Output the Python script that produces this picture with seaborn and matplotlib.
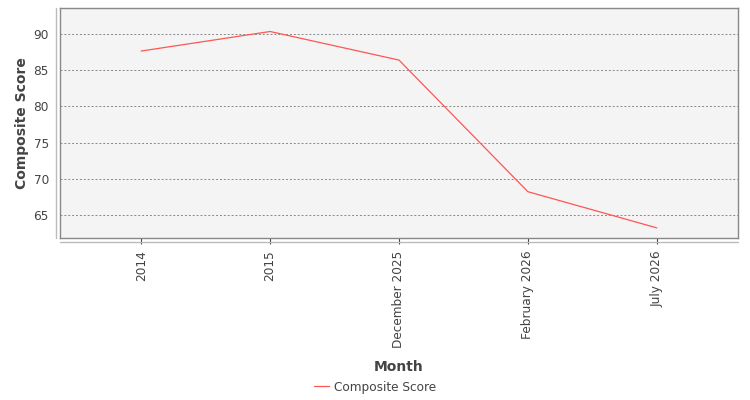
import matplotlib
matplotlib.use("Agg")
import matplotlib.pyplot as plt
import seaborn as sns
import pandas as pd
from matplotlib.lines import Line2D

# Chart data
months = ["2014", "2015", "December 2025", "February 2026", "July 2026"]
scores = [87.65, 90.35, 86.4, 68.2, 63.2]

df = pd.DataFrame({"Month": months, "Composite Score": scores})
df["pos"] = range(len(months))

sns.set_style("white")
plt.rcParams['font.family'] = ['DejaVu Sans']

fig = plt.figure(figsize=(7.5, 4), dpi=100)
ax = fig.add_axes([60 / 750, 1 - 238 / 400, 678 / 750, 230 / 400])
ax.set_facecolor("#f4f4f4")

sns.lineplot(data=df, x="pos", y="Composite Score", color="#ff5555",
             linewidth=0.9, ax=ax, label="Composite Score", legend=False)

ax.set_xlim(-0.63, len(months) - 1 + 0.63)
ax.set_ylim(61.8, 93.6)
ax.set_yticks([65, 70, 75, 80, 85, 90])
ax.set_xticks(df["pos"])
ax.set_xticklabels(months, rotation=90)
ax.yaxis.grid(True, color="#888888", linestyle=(0, (2, 2)), linewidth=0.7)
ax.xaxis.grid(False)

for s in ax.spines.values():
    s.set_color("#888888")
    s.set_linewidth(1.0)

ax.tick_params(axis="x", colors="#444444", labelsize=8.7, length=4, width=0.8,
               direction="out", pad=5, bottom=True)
ax.tick_params(axis="y", colors="#444444", labelsize=8.7, length=0, pad=8)
for lbl in ax.get_xticklabels() + ax.get_yticklabels():
    lbl.set_color("#444444")

ax.set_xlabel("Month", fontsize=10, fontweight="bold", color="#444444", labelpad=9)
ax.set_ylabel("Composite Score", fontsize=10, fontweight="bold", color="#444444", labelpad=3)

# offset axis lines
fig.add_artist(Line2D([56 / 750, 56 / 750], [1 - 8 / 400, 1 - 238 / 400],
                      color="#bbbbbb", linewidth=1.0, transform=fig.transFigure))
fig.add_artist(Line2D([60 / 750, 738 / 750], [1 - 242 / 400, 1 - 242 / 400],
                      color="#bbbbbb", linewidth=1.0, transform=fig.transFigure))

handles, labels = ax.get_legend_handles_labels()
fig.legend(handles, labels, loc="center", bbox_to_anchor=(0.5, 1 - 387 / 400),
           frameon=False, fontsize=8.7, handlelength=1.2, handletextpad=0.4,
           labelcolor="#444444")

fig.savefig("out.png", dpi=100)
